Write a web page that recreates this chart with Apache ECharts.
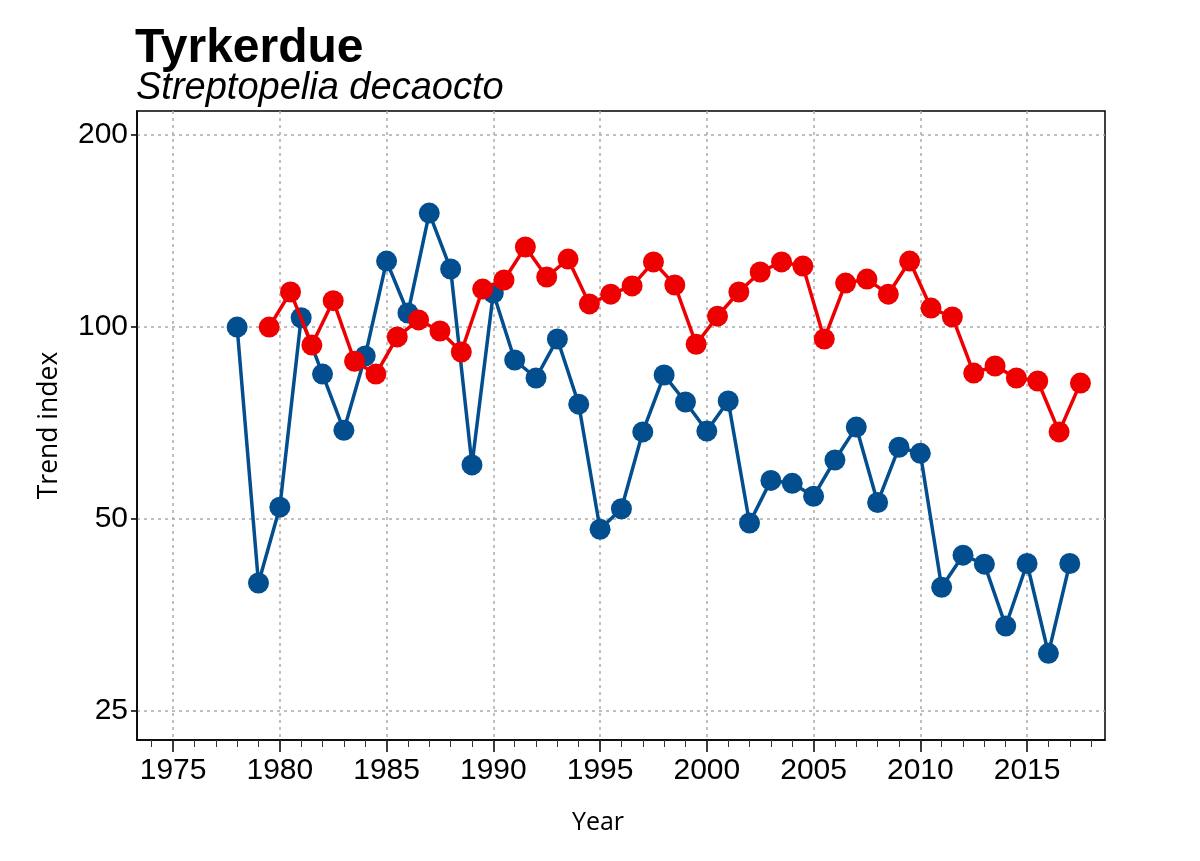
<!DOCTYPE html>
<html>
<head>
<meta charset="utf-8">
<script src="https://cdn.jsdelivr.net/npm/echarts@6/dist/echarts.min.js"></script>
<style>
html,body{margin:0;padding:0;background:#fff;}
#chart{width:1200px;height:861px;}
</style>
</head>
<body>
<div id="chart"></div>
<script>
// ---- data ----
const blueYears = [1978,1979,1980,1981,1982,1983,1984,1985,1986,1987,1988,1989,1990,1991,1992,1993,1994,1995,1996,1997,1998,1999,2000,2001,2002,2003,2004,2005,2006,2007,2008,2009,2010,2011,2012,2013,2014,2015,2016,2017];
const blueIndex = [100,39.7,52.2,103.4,84.4,68.9,90.1,126.9,105.2,150.9,123.3,60.8,113.1,88.8,83.2,95.8,75.7,48.2,51.9,68.5,84.1,76.3,68.7,76.6,49.3,57.5,56.9,54.3,61.9,69.7,53.1,64.8,63.4,39.1,43.9,42.5,34.0,42.6,30.8,42.6];
const redYears = [1979.5,1980.5,1981.5,1982.5,1983.5,1984.5,1985.5,1986.5,1987.5,1988.5,1989.5,1990.5,1991.5,1992.5,1993.5,1994.5,1995.5,1996.5,1997.5,1998.5,1999.5,2000.5,2001.5,2002.5,2003.5,2004.5,2005.5,2006.5,2007.5,2008.5,2009.5,2010.5,2011.5,2012.5,2013.5,2014.5,2015.5,2016.5,2017.5];
const redIndex = [100,113.5,93.7,110,88.4,84.4,96.5,102.6,98.6,91.4,114.7,118.5,133.5,119.8,127.8,108.7,112.6,116,126.5,116.4,94,104,113.5,122,126.5,124.6,95.8,117.2,118.9,112.6,126.9,107.1,103.7,84.7,86.9,83.2,82.3,68.5,81.7];
const xTicks = [1975,1980,1985,1990,1995,2000,2005,2010,2015];
const xMinorTicks = [1974,1975,1976,1977,1978,1979,1980,1981,1982,1983,1984,1985,1986,1987,1988,1989,1990,1991,1992,1993,1994,1995,1996,1997,1998,1999,2000,2001,2002,2003,2004,2005,2006,2007,2008,2009,2010,2011,2012,2013,2014,2015,2016,2017,2018];
const yTicks = [25,50,100,200];
const titleText = 'Tyrkerdue';
const subtitleText = 'Streptopelia decaocto';

// ---- chart ----
const chart = echarts.init(document.getElementById('chart'), null, {renderer: 'canvas'});
const X_MIN = 1973.31, X_MAX = 2018.65, Y_MIN = 22.53, Y_MAX = 218.1;
const gridLine = {show: true, lineStyle: {color: '#ababab', width: 1.5, type: [3, 4]}};

chart.setOption({
  animation: false,
  backgroundColor: '#ffffff',
  title: [
    {text: titleText, left: 135, top: 25, padding: 0,
     textStyle: {fontFamily: 'Liberation Sans, Arial', fontWeight: 'bold', fontSize: 48, color: '#000'}},
    {text: subtitleText, left: 136, top: 69, padding: 0,
     textStyle: {fontFamily: 'Liberation Sans, Arial', fontStyle: 'italic', fontWeight: 'normal', fontSize: 38, color: '#000'}}
  ],
  grid: {left: 137, right: 95, top: 111, bottom: 121, show: true, borderColor: '#000', borderWidth: 1.5, backgroundColor: 'transparent', containLabel: false},
  xAxis: [
    {
      type: 'value', min: X_MIN, max: X_MAX, position: 'bottom',
      name: 'Year', nameLocation: 'middle', nameGap: 70,
      nameTextStyle: {fontFamily: 'Open Sans', fontSize: 25, color: '#000', padding: [0, 46, 0, 0]},
      axisLine: {show: true, onZero: false, lineStyle: {color: '#000', width: 1.5}},
      axisTick: {show: true, length: 12, customValues: xTicks, lineStyle: {color: '#000', width: 1.5}},
      axisLabel: {show: true, customValues: xTicks, margin: 16, fontFamily: 'Liberation Sans, Arial', fontSize: 30, color: '#000', formatter: v => String(Math.round(v))},
      splitLine: gridLine
    },
    {
      type: 'value', min: X_MIN, max: X_MAX, position: 'bottom',
      axisLine: {show: false},
      axisTick: {show: true, length: 7, customValues: xMinorTicks, lineStyle: {color: '#333', width: 1}},
      axisLabel: {show: false},
      splitLine: {show: false}
    }
  ],
  yAxis: {
    type: 'log', logBase: 2, min: Y_MIN, max: Y_MAX,
    name: 'Trend index', nameLocation: 'middle', nameGap: 74, nameRotate: 90,
    nameTextStyle: {fontFamily: 'Open Sans', fontSize: 26.5, color: '#000'},
    axisLine: {show: true, lineStyle: {color: '#000', width: 1.5}},
    axisTick: {show: true, length: 6, customValues: yTicks, lineStyle: {color: '#000', width: 1.5}},
    axisLabel: {show: true, customValues: yTicks, margin: 9, fontFamily: 'Liberation Sans, Arial', fontSize: 30, color: '#000', formatter: v => String(Math.round(v))},
    splitLine: gridLine,
    minorTick: {show: false}, minorSplitLine: {show: false}
  },
  series: [
    {
      type: 'line', name: 'red', xAxisIndex: 0, yAxisIndex: 0,
      data: redYears.map((y, i) => [y, redIndex[i]]),
      symbol: 'circle', symbolSize: 21, showAllSymbol: true,
      lineStyle: {color: '#EE0000', width: 3.5},
      itemStyle: {color: '#EE0000', borderWidth: 0},
      z: 3
    },
    {
      type: 'line', name: 'blue', xAxisIndex: 0, yAxisIndex: 0,
      data: blueYears.map((y, i) => [y, blueIndex[i]]),
      symbol: 'circle', symbolSize: 21, showAllSymbol: true,
      lineStyle: {color: '#034E8E', width: 3.5},
      itemStyle: {color: '#034E8E', borderWidth: 0},
      z: 2
    }
  ]
});
</script>
</body>
</html>
